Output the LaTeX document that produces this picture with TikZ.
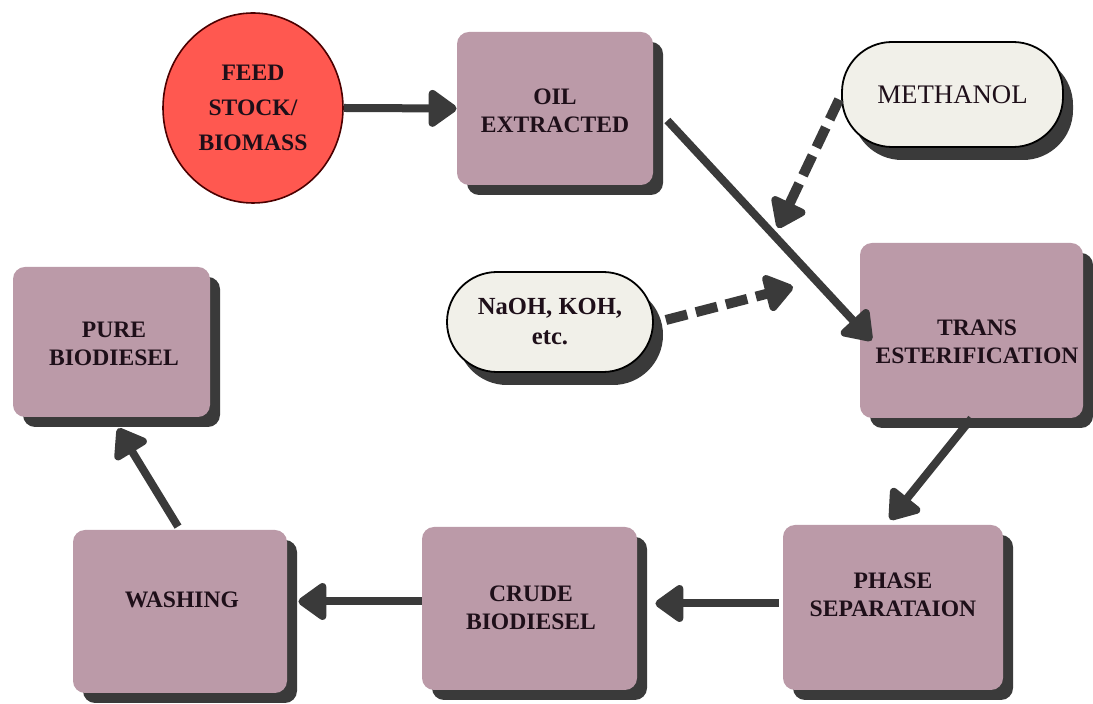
\documentclass[tikz,border=0pt]{standalone}
\usepackage{fontspec}
\setmainfont{Liberation Serif}
\usetikzlibrary{arrows.meta,shadows,calc,shapes.geometric}
\definecolor{boxfill}{RGB}{187,154,168}
\definecolor{feedred}{RGB}{255,88,80}
\definecolor{pillfill}{RGB}{241,240,233}
\definecolor{shadowc}{RGB}{58,58,58}
\definecolor{arrowc}{RGB}{58,58,58}
\definecolor{textc}{RGB}{30,15,25}
\begin{document}
\begin{tikzpicture}[x=0.5pt,y=-0.5pt,
  proc/.style={fill=boxfill, rounded corners=6pt, inner sep=0pt,
    drop shadow={shadow xshift=5pt, shadow yshift=-5pt, opacity=1, fill=shadowc}},
  lbl/.style={inner sep=0pt, align=center, text=textc,
    font=\bfseries\fontsize{11.8}{14}\selectfont},
  pill/.style={draw=black, line width=0.9pt, fill=pillfill, rounded corners=25pt,
    inner sep=0pt, align=center, text=textc,
    drop shadow={shadow xshift=5pt, shadow yshift=-6.5pt, opacity=1, fill=shadowc}},
  flow/.style={draw=arrowc, line width=4pt, -{Triangle[width=21pt,length=15.5pt,round]}},
  dflow/.style={draw=arrowc, line width=5pt, dash pattern=on 11pt off 4.5pt,
    -{Triangle[width=21pt,length=15.5pt,round]}}]
\useasboundingbox (0,0) rectangle (1093,704);

\node[ellipse, draw=black!70!red, line width=0.8pt, fill=feedred, minimum width=90pt,
  minimum height=95pt, inner sep=0pt, align=center, text=textc,
  font=\bfseries\fontsize{11.8}{17.5}\selectfont] (feed) at (253,108) {FEED\\STOCK/\\BIOMASS};

\node[proc, minimum width=98pt, minimum height=76.5pt] (oil) at (555,108.5) {};
\node[proc, minimum width=111.5pt, minimum height=87.5pt] (trans) at (971.5,330.5) {};
\node[proc, minimum width=110pt, minimum height=82.5pt] (phase) at (893,607.5) {};
\node[proc, minimum width=107.5pt, minimum height=81.5pt] (crude) at (529.5,608.5) {};
\node[proc, minimum width=107pt, minimum height=81.5pt] (washing) at (180,611.5) {};
\node[proc, minimum width=98.5pt, minimum height=75pt] (pure) at (111.5,342) {};

\node[lbl] (oilt) at (555,111) {OIL\\EXTRACTED};
\node[lbl] (transt) at (977,342) {TRANS\\ESTERIFICATION};
\node[lbl] (phaset) at (893,595) {PHASE\\SEPARATAION};
\node[lbl] (crudet) at (531,607.5) {CRUDE\\BIODIESEL};
\node[lbl] (washingt) at (182,600) {WASHING};
\node[lbl] (puret) at (114,344) {PURE\\BIODIESEL};

\node[pill, minimum width=110.5pt, minimum height=52.5pt,
  font=\fontsize{13.4}{15}\selectfont] (meth) at (952.5,94.5) {METHANOL};
\node[pill, minimum width=103pt, minimum height=50pt,
  font=\bfseries\fontsize{12.3}{15}\selectfont] (naoh) at (550,322) {NaOH, KOH,\\etc.};

\coordinate (mtip) at (778,228);
\coordinate (ntip) at (793,287);

\draw[flow] (feed.east) -- (oil.west);
\draw[flow] ($(oil.east)+(14,12)$) -- ($(trans.west)+(12,10)$);
\draw[dflow] ($(meth.west)+(-2,5)$) -- (mtip);
\draw[dflow] ($(naoh.east)+(12,-2)$) -- (ntip);
\draw[flow] (trans.south) -- ($(phase.north)+(-3,-5)$);
\draw[flow] ($(phase.west)+(-4,-4)$) -- ($(crude.east)+(18,-5)$);
\draw[flow] ($(crude.west)+(0,-7)$) -- ($(washing.east)+(11,-10)$);
\draw[flow] ($(washing.north)+(-2,-3)$) -- ($(pure.south)+(6.5,11)$);
\end{tikzpicture}
\end{document}
